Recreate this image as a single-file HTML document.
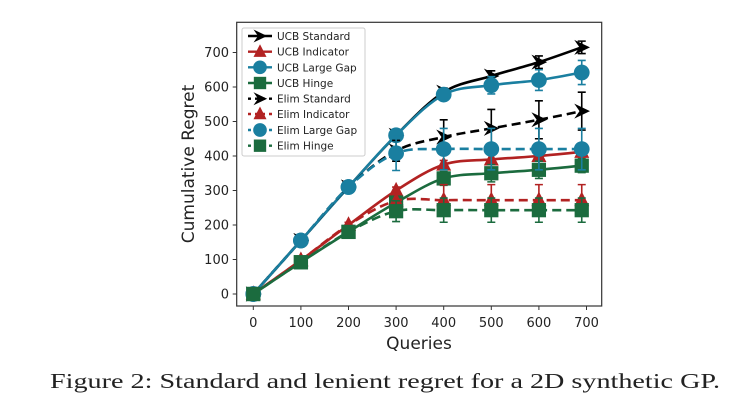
<!DOCTYPE html>
<html><head><meta charset="utf-8"><style>
body{margin:0;background:#fff;width:751px;height:408px;overflow:hidden}
svg{position:absolute;left:0;top:0}
text{font-family:"DejaVu Sans","Liberation Sans",sans-serif;fill:#222}
</style></head><body>
<svg id="s" width="751" height="408" viewBox="0 0 751 408">
<rect x="236.7" y="22.3" width="365" height="283.7" fill="none" stroke="#333" stroke-width="1.2"/>
<g stroke="#333" stroke-width="1">
<path d="M236.7,294h-4M236.7,259.5h-4M236.7,225h-4M236.7,190.5h-4M236.7,156h-4M236.7,121.5h-4M236.7,87h-4M236.7,52.5h-4"/>
<path d="M253.3,306v4M300.9,306v4M348.5,306v4M396.1,306v4M443.7,306v4M491.3,306v4M538.9,306v4M586.5,306v4"/>
</g>
<g id="plot"></g>
<g font-size="13" text-anchor="end">
<text x="229" y="298.5">0</text><text x="229" y="264">100</text><text x="229" y="229.5">200</text><text x="229" y="195">300</text><text x="229" y="160.5">400</text><text x="229" y="126">500</text><text x="229" y="91.5">600</text><text x="229" y="57">700</text>
</g>
<g font-size="13" text-anchor="middle">
<text x="253.3" y="327">0</text><text x="300.9" y="327">100</text><text x="348.5" y="327">200</text><text x="396.1" y="327">300</text><text x="443.7" y="327">400</text><text x="491.3" y="327">500</text><text x="538.9" y="327">600</text><text x="586.5" y="327">700</text>
</g>
<text x="419" y="349" font-size="17" text-anchor="middle">Queries</text>
<text transform="translate(194,164) rotate(-90)" font-size="17" text-anchor="middle">Cumulative Regret</text>
<rect x="242" y="28" width="123" height="128" fill="#fff" fill-opacity="0.85" stroke="#ccc" rx="2"/>
<g id="leg"></g>
<g font-size="10.5">
<text x="277" y="40">UCB Standard</text><text x="277" y="55.7">UCB Indicator</text><text x="277" y="71.3">UCB Large Gap</text><text x="277" y="87">UCB Hinge</text><text x="277" y="102.7">Elim Standard</text><text x="277" y="118">Elim Indicator</text><text x="277" y="134">Elim Large Gap</text><text x="277" y="149.7">Elim Hinge</text>
</g>
<text x="50" y="388" font-size="21" textLength="670" lengthAdjust="spacingAndGlyphs" style="font-family:'Liberation Serif',serif">Figure 2: Standard and lenient regret for a 2D synthetic GP.</text>
</svg>
<script>
const X=v=>253.3+v*0.476, Y=v=>294-v*0.345;
const xs=[0,100,200,300,400,500,600,690];
const S=[
 ["#000","star",[0,155,310,460,585,632,672,715],0,[0,8,8,10,12,15,18,18]],
 ["#b22222","tri",[0,98,200,300,375,390,400,412],0,[0,8,8,10,12,15,15,15]],
 ["#1a7fa0","circ",[0,155,310,460,578,605,620,642],0,[0,8,8,10,15,25,30,35]],
 ["#1b6b3e","sq",[0,92,180,265,335,350,360,372],0,[0,8,8,12,20,25,25,20]],
 ["#000","star",[0,155,310,415,455,480,505,530],1,[0,8,8,30,50,55,55,55]],
 ["#b22222","tri",[0,98,200,270,272,272,272,272],1,[0,8,8,30,45,45,45,45]],
 ["#1a7fa0","circ",[0,155,310,408,420,420,420,420],1,[0,8,8,50,60,60,60,60]],
 ["#1b6b3e","sq",[0,92,180,240,243,243,243,243],1,[0,8,8,30,35,35,35,35]]];
function mk(t,c,x,y,r){
 if(t=="circ")return `<circle cx="${x}" cy="${y}" r="${r*1.05}" fill="${c}"/>`;
 if(t=="sq")return `<rect x="${x-r*0.95}" y="${y-r*0.95}" width="${1.9*r}" height="${1.9*r}" fill="${c}"/>`;
 if(t=="tri")return `<polygon points="${x},${y-r*1.15} ${x+r},${y+r*0.8} ${x-r},${y+r*0.8}" fill="${c}"/>`;
 return `<polygon points="${x+r*1.1},${y} ${x-r},${y-r} ${x-r*0.3},${y} ${x-r},${y+r}" fill="${c}"/>`;
}
function path(p){let d=`M${p[0][0]},${p[0][1]}`;for(let i=0;i<p.length-1;i++){const a=p[i-1]||p[i],b=p[i],c=p[i+1],e=p[i+2]||c;d+=` C${b[0]+(c[0]-a[0])/6},${b[1]+(c[1]-a[1])/6} ${c[0]-(e[0]-b[0])/6},${c[1]-(e[1]-b[1])/6} ${c[0]},${c[1]}`;}return d;}
let h="";
S.forEach(([c,t,v,d,e])=>{
 const p=xs.map((x,i)=>[X(x),Y(v[i])]);
 h+=`<path d="${path(p)}" fill="none" stroke="${c}" stroke-width="2.6" ${d?'stroke-dasharray="9,5"':''}/>`;
 p.forEach(([x,y],i)=>{if(e[i])h+=`<path d="M${x},${y-e[i]*0.345}V${y+e[i]*0.345}M${x-4},${y-e[i]*0.345}h8M${x-4},${y+e[i]*0.345}h8" stroke="${c}" stroke-width="1.6"/>`;h+=mk(t,c,x,y,7.5);});
});
document.getElementById("plot").innerHTML=h;
let l="";const ly=[36,51.7,67.3,83,98.7,114,130,145.7];
S.forEach(([c,t,v,d],i)=>{l+=`<line x1="248" x2="272" y1="${ly[i]}" y2="${ly[i]}" stroke="${c}" stroke-width="2.4" ${d?'stroke-dasharray="3,4"':''}/>`+mk(t,c,260,ly[i],6.5);});
document.getElementById("leg").innerHTML=l;
</script>
</body></html>
